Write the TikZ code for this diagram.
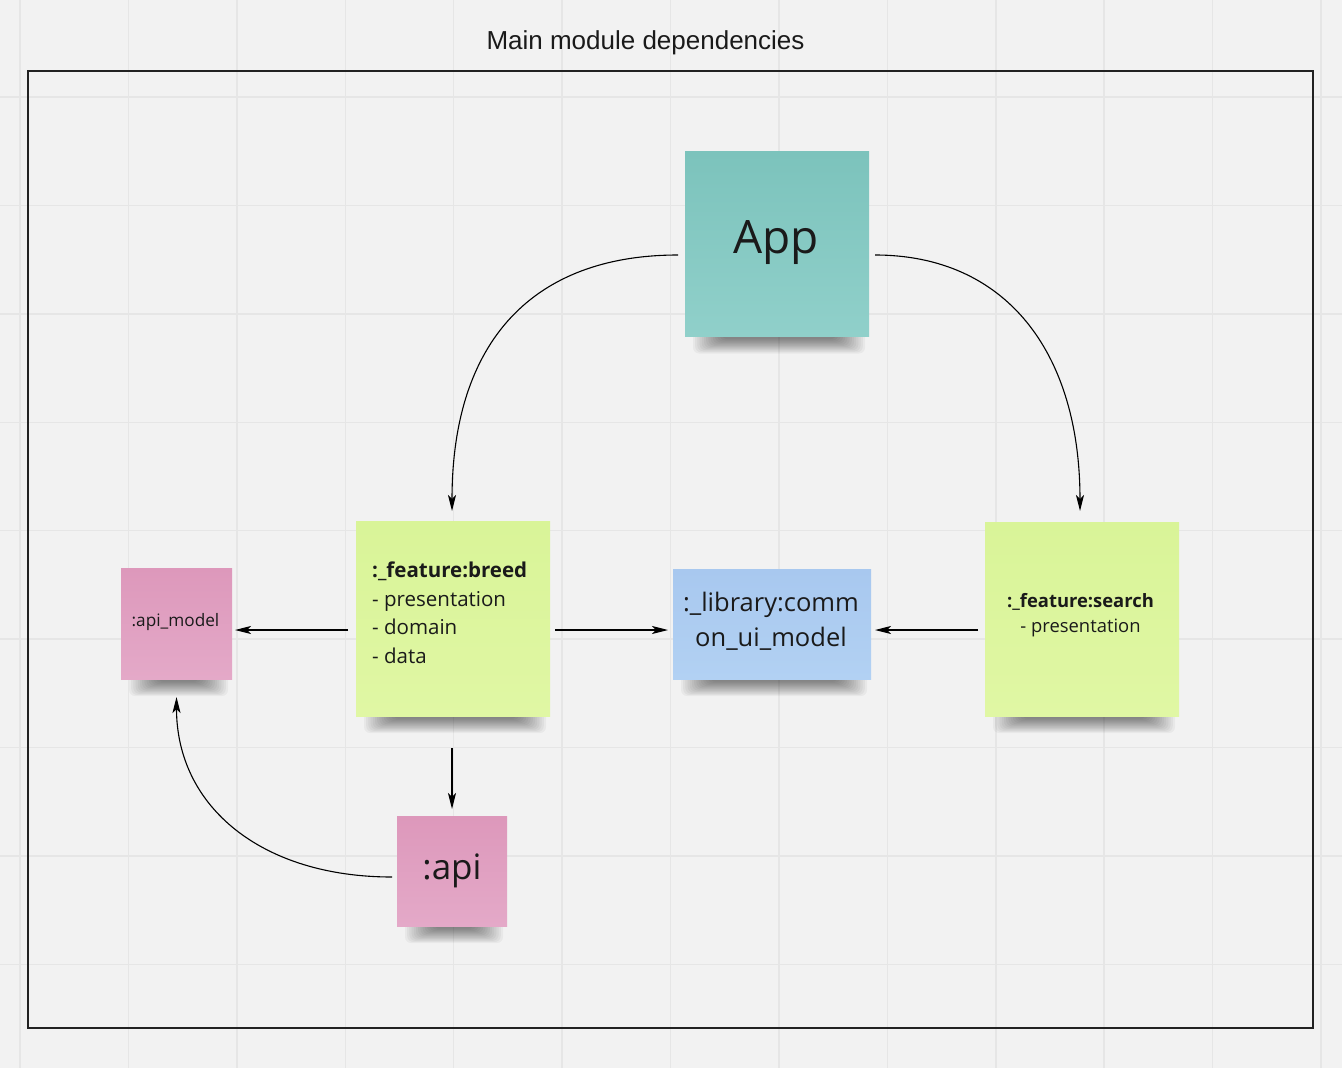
\documentclass[tikz,border=0pt]{standalone}
\usepackage{fontspec}
\setmainfont{Open Sans}
\newfontfamily\titlefont{Liberation Sans}
\usetikzlibrary{arrows.meta}
\definecolor{bgcol}{HTML}{F2F2F2}
\definecolor{gridcol}{HTML}{E6E6E6}
\definecolor{framecol}{HTML}{222222}
\definecolor{inkcol}{HTML}{1A1A1A}
\definecolor{tealtop}{HTML}{7CC3BC}
\definecolor{tealbot}{HTML}{90D0CA}
\definecolor{greentop}{HTML}{D9F498}
\definecolor{greenbot}{HTML}{E0F7A4}
\definecolor{bluetop}{HTML}{A8C8EF}
\definecolor{bluebot}{HTML}{B2D1F3}
\definecolor{pinktop}{HTML}{DD98BB}
\definecolor{pinkbot}{HTML}{E4A9C8}
\pgfdeclarelayer{bg}
\pgfdeclarelayer{shadow}
\pgfsetlayers{bg,shadow,main}
\newcommand{\stickyshadow}[1]{%
  \begin{pgfonlayer}{shadow}
    \foreach \k in {0,...,13} {
      \fill[black,opacity=0.04,rounded corners=6pt]
        ([xshift={8+2.2*\k}, yshift=6pt]#1.south west) rectangle
        ([xshift={-4-2.2*\k}, yshift={-(17-1.1*\k)}]#1.south east);
    }
  \end{pgfonlayer}}
\begin{document}
\begin{tikzpicture}[x=1pt,y=-1pt,
  sticky/.style={draw=none, inner sep=0pt, outer sep=0pt},
  teal/.style={sticky, top color=tealtop, bottom color=tealbot},
  green/.style={sticky, top color=greentop, bottom color=greenbot},
  blue/.style={sticky, top color=bluetop, bottom color=bluebot},
  pink/.style={sticky, top color=pinktop, bottom color=pinkbot},
  txt/.style={inner sep=0pt, text=inkcol},
  arr/.style={draw=black, line width=1.1pt, -{Stealth[length=16pt,width=8pt,inset=4pt]}}
]
\useasboundingbox (0,0) rectangle (1342,1068);
\begin{pgfonlayer}{bg}
  \fill[bgcol] (0,0) rectangle (1342,1068);
  \foreach \i in {0,...,12} \draw[gridcol, line width=1.5pt] ({20+108.42*\i},0) -- ({20+108.42*\i},1068);
  \foreach \j in {1,...,9} \draw[gridcol, line width=1.5pt] (0,{-11.4+108.42*\j}) -- (1342,{-11.4+108.42*\j});
\end{pgfonlayer}

% frame and title
\draw[framecol, line width=2pt] (28,71) rectangle (1313,1028);
\node[txt, anchor=base] (title) at (645.5,49.5) {\titlefont\fontsize{26}{26}\selectfont Main module dependencies};

% sticky notes
\node[teal, minimum width=184pt, minimum height=185pt] (App) at (777,244) {};
\node[green, minimum width=194pt, minimum height=195pt] (breed) at (453,618.5) {};
\node[green, minimum width=194pt, minimum height=194pt] (search) at (1082,619) {};
\node[pink, minimum width=111pt, minimum height=111pt] (apimodel) at (176.5,623.5) {};
\node[blue, minimum width=198pt, minimum height=110pt] (library) at (772,624) {};
\node[pink, minimum width=110pt, minimum height=110pt] (api) at (452,871) {};
\stickyshadow{App}
\stickyshadow{breed}
\stickyshadow{search}
\stickyshadow{apimodel}
\stickyshadow{library}
\stickyshadow{api}

% texts
\node[txt, anchor=base] (apptxt) at (776,253) {\fontsize{46}{46}\selectfont App};
\node[txt, anchor=base west] (breedl1) at (372,577) {\fontsize{20.5}{20.5}\selectfont\bfseries :\_feature:breed};
\node[txt, anchor=base west] (breedl2) at (372,606) {\fontsize{20.5}{20.5}\selectfont - presentation};
\node[txt, anchor=base west] (breedl3) at (372,634.5) {\fontsize{20.5}{20.5}\selectfont - domain};
\node[txt, anchor=base west] (breedl4) at (372,663) {\fontsize{20.5}{20.5}\selectfont - data};
\node[txt, anchor=base] (searchl1) at (1080.5,607) {\fontsize{18.4}{18.4}\selectfont\bfseries :\_feature:search};
\node[txt, anchor=base] (searchl2) at (1080.5,632) {\fontsize{18.4}{18.4}\selectfont - presentation};
\node[txt, anchor=base] (apimodeltxt) at (175.5,626) {\fontsize{17.2}{17.2}\selectfont :api\_model};
\node[txt, anchor=base] (libl1) at (771,611) {\fontsize{25.5}{25.5}\selectfont :\_library:comm};
\node[txt, anchor=base] (libl2) at (771,646) {\fontsize{25.5}{25.5}\selectfont on\_ui\_model};
\node[txt, anchor=base] (apitxt) at (452,879) {\fontsize{35}{35}\selectfont :api};

% connectors
\draw[arr] ([xshift=-7pt,yshift=-11pt]App.west) .. controls +(-145,0) and +(0,-170) .. ([xshift=-1pt,yshift=10pt]breed.north);
\draw[arr] ([xshift=6pt,yshift=-11pt]App.east) .. controls +(130,0) and +(0,-160) .. ([xshift=-2pt,yshift=11pt]search.north);
\draw[arr] ([xshift=-8pt,yshift=-11.5pt]breed.west) -- ([xshift=3pt,yshift=-6.5pt]apimodel.east);
\draw[arr] ([xshift=5pt,yshift=-11.5pt]breed.east) -- ([xshift=-5pt,yshift=-6pt]library.west);
\draw[arr] ([xshift=-7pt,yshift=-11pt]search.west) -- ([xshift=4pt,yshift=-6pt]library.east);
\draw[arr] ([xshift=-1pt,yshift=-32pt]breed.south) -- ([yshift=7pt]api.north);
\draw[arr] ([xshift=-5pt,yshift=-6pt]api.west) .. controls +(-130,0) and +(0,110) .. ([yshift=-18pt]apimodel.south);
\end{tikzpicture}
\end{document}
